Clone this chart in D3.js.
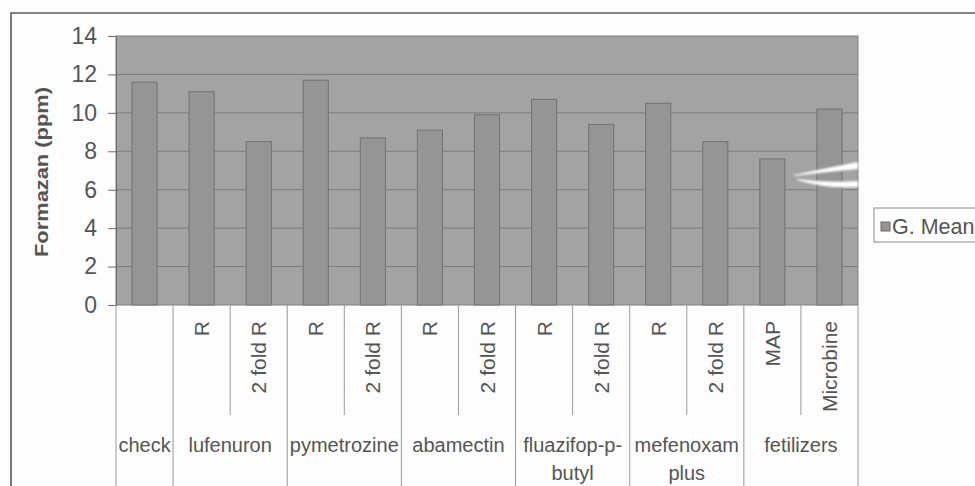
<!DOCTYPE html>
<html>
<head>
<meta charset="utf-8">
<script src="https://cdn.jsdelivr.net/npm/d3@7/dist/d3.min.js"></script>
<style>
  html, body { margin: 0; padding: 0; background: #fff; }
  svg { display: block; font-family: "Liberation Sans", Arial, sans-serif; }
</style>
</head>
<body>
<svg id="chart" width="975" height="486"></svg>
<script>
// Formazan content (ppm), grand mean per treatment
const treatments = ["", "R", "2 fold R", "R", "2 fold R", "R", "2 fold R", "R", "2 fold R", "R", "2 fold R", "MAP", "Microbine"];
const groupIndex = [0, 1, 1, 2, 2, 3, 3, 4, 4, 5, 5, 6, 6];
const groupLabels = [["check"], ["lufenuron"], ["pymetrozine"], ["abamectin"], ["fluazifop-p-", "butyl"], ["mefenoxam", "plus"], ["fetilizers"]];
const gMean = [11.6, 11.1, 8.5, 11.7, 8.7, 9.1, 9.9, 10.7, 9.4, 10.5, 8.5, 7.6, 10.2];
const yTicks = [0, 2, 4, 6, 8, 10, 12, 14];
const seriesName = "G. Mean";
const yTitle = "Formazan (ppm)";

const svg = d3.select("#chart");
const W = 975, H = 486;
const plot = { left: 116, right: 858, top: 36, bottom: 305 };

const defs = svg.append("defs");
defs.append("filter").attr("id", "soft").append("feGaussianBlur").attr("stdDeviation", 0.8);

svg.append("rect").attr("width", W).attr("height", H).attr("fill", "#fdfdfd");

// chart frame
svg.append("path")
  .attr("d", `M11,${H} V13 H${W}`)
  .attr("fill", "none").attr("stroke", "#5a5a5a").attr("stroke-width", 1.6);

const x = d3.scaleBand().domain(d3.range(treatments.length)).range([plot.left, plot.right]).padding(0);
const y = d3.scaleLinear().domain([0, 14]).range([plot.bottom, plot.top]);

// plot area
svg.append("rect")
  .attr("x", plot.left).attr("y", plot.top)
  .attr("width", plot.right - plot.left).attr("height", plot.bottom - plot.top)
  .attr("fill", "#a3a3a3").attr("stroke", "#808080").attr("stroke-width", 1);

// gridlines
svg.append("g").selectAll("line").data(yTicks.filter(t => t > 0 && t < 14)).join("line")
  .attr("x1", plot.left).attr("x2", plot.right)
  .attr("y1", d => y(d)).attr("y2", d => y(d))
  .attr("stroke", "#7d7d7d").attr("stroke-width", 1);

// bars
const barW = x.bandwidth() * 0.44;
svg.append("g").selectAll("rect").data(gMean).join("rect")
  .attr("x", (d, i) => x(i) + (x.bandwidth() - barW) / 2)
  .attr("y", d => y(d))
  .attr("width", barW)
  .attr("height", d => y(0) - y(d))
  .attr("fill", "#959595")
  .attr("stroke", "#727272").attr("stroke-width", 1);

// glare streak on the right side of the plot
const glare = svg.append("g").attr("fill", "#ffffff").attr("filter", "url(#soft)");
glare.append("path").attr("d", "M794,175 Q826,168 858,162 L858,169 Q828,172 794,176 Z");
glare.append("path").attr("d", "M797,179 Q826,183 858,181 L858,187 Q826,189 797,180 Z");

// y axis
const yAxis = svg.append("g").attr("transform", `translate(${plot.left},0)`)
  .call(d3.axisLeft(y).tickValues(yTicks).tickSize(8).tickPadding(11));
yAxis.select(".domain").attr("stroke", "#6a6a6a");
yAxis.selectAll(".tick line").attr("stroke", "#6a6a6a");
yAxis.selectAll(".tick text")
  .attr("font-size", 23).attr("fill", "#555").attr("font-family", "Liberation Sans, Arial, sans-serif");

svg.append("text")
  .attr("transform", "translate(48,172) rotate(-90)")
  .attr("text-anchor", "middle")
  .attr("font-size", 18).attr("font-weight", "bold").attr("fill", "#555")
  .attr("textLength", 170).attr("lengthAdjust", "spacingAndGlyphs")
  .text(yTitle);

// category dividers below the axis
const boundaries = d3.range(treatments.length + 1);
svg.append("g").selectAll("line").data(boundaries).join("line")
  .attr("x1", i => i === treatments.length ? plot.right : x(i))
  .attr("x2", i => i === treatments.length ? plot.right : x(i))
  .attr("y1", plot.bottom)
  .attr("y2", i => (i > 0 && i < treatments.length && groupIndex[i] === groupIndex[i - 1]) ? 415 : H)
  .attr("stroke", "#9a9a9a").attr("stroke-width", 1);

// treatment labels (rotated)
svg.append("g").selectAll("text").data(treatments).join("text")
  .attr("transform", (d, i) => `translate(${x(i) + x.bandwidth() / 2},321) rotate(-90)`)
  .attr("text-anchor", "end").attr("dominant-baseline", "central")
  .attr("font-size", 21).attr("fill", "#555")
  .text(d => d);

// group labels
const groupSpans = groupLabels.map((lines, g) => {
  const idx = groupIndex.map((v, i) => v === g ? i : -1).filter(i => i >= 0);
  return { lines, x0: x(idx[0]), x1: x(idx[idx.length - 1]) + x.bandwidth() };
});
const gl = svg.append("g").selectAll("text").data(groupSpans).join("text")
  .attr("text-anchor", "middle")
  .attr("font-size", 20).attr("fill", "#555");
gl.selectAll("tspan").data(d => d.lines.map(l => ({ l, cx: (d.x0 + d.x1) / 2 }))).join("tspan")
  .attr("x", d => d.cx)
  .attr("y", (d, i) => 452 + i * 28)
  .text(d => d.l);

// legend
const lg = svg.append("g");
lg.append("rect").attr("x", 874).attr("y", 208).attr("width", 120).attr("height", 34)
  .attr("fill", "#fff").attr("stroke", "#8a8a8a").attr("stroke-width", 1);
lg.append("rect").attr("x", 881).attr("y", 222).attr("width", 9).attr("height", 9)
  .attr("fill", "#959595").attr("stroke", "#6a6a6a");
lg.append("text").attr("x", 892).attr("y", 234)
  .attr("font-size", 21.5).attr("fill", "#555").text(seriesName);
</script>
</body>
</html>
